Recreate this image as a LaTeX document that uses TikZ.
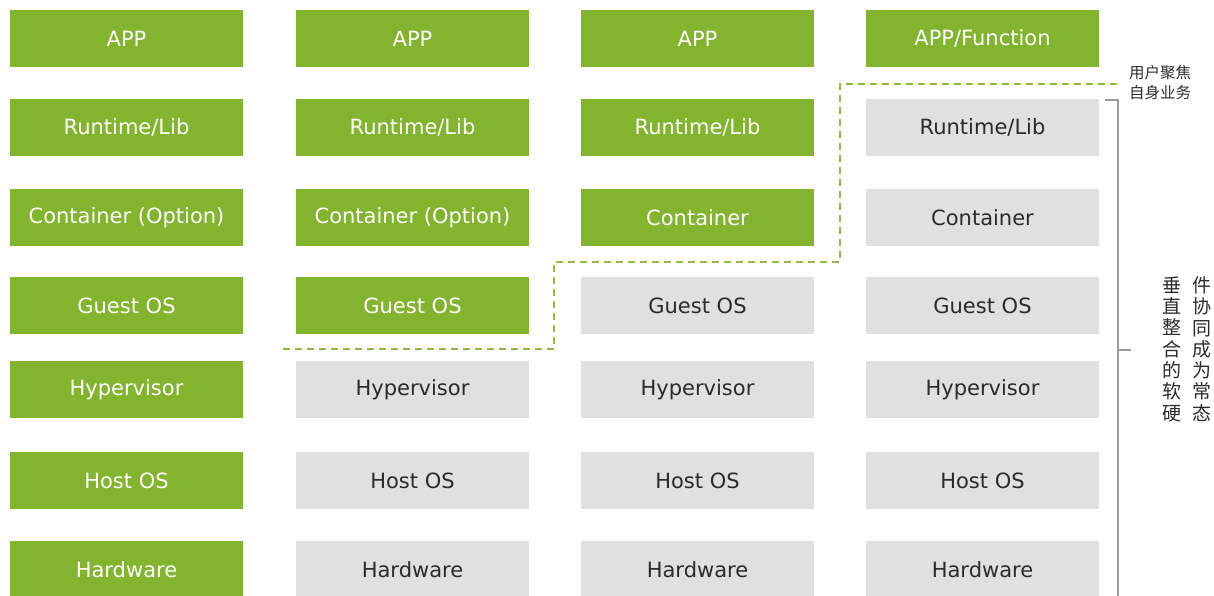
\documentclass[tikz,border=0pt]{standalone}
\usepackage{fontspec}
\setmainfont{DejaVu Sans}
\newfontfamily\cjk{Noto Sans CJK SC}
\usepackage{tikz}
\usetikzlibrary{positioning}

\definecolor{leaf}{HTML}{82B42E}
\definecolor{mist}{HTML}{E0E0E0}
\definecolor{ink}{HTML}{2B2B2B}
\definecolor{edge}{HTML}{9A9A9A}

\begin{document}
\begin{tikzpicture}[x=1pt,y=-1pt,
        layer/.style={rectangle,minimum width=233,minimum height=57,inner sep=0,
          font=\fontsize{21}{25}\selectfont},
        focus/.style={draw=leaf!90,line width=1.4,dash pattern=on 7pt off 5pt},
        brace/.style={draw=edge,line width=1.6},
        vtext/.style={text=ink,align=center,inner sep=0,font=\cjk\fontsize{19}{21.3}\selectfont}]
      \clip (0,0) rectangle (1214,596);

      % four stacks, green part counted from the top
      \foreach \c/\x/\ng/\app/\cnt in {1/126.5/7/APP/Container (Option),
                                       2/412.5/4/APP/Container (Option),
                                       3/697.5/3/APP/Container,
                                       4/982.5/1/{APP/Function}/Container}
        \foreach \r/\y/\txt in {1/38.5/\app, 2/127.5/{Runtime/Lib}, 3/217.5/\cnt,
                                4/305.5/Guest OS, 5/389.5/Hypervisor,
                                6/480.5/Host OS, 7/569.5/Hardware}
          {
          \ifnum\r>\ng \def\fc{mist}\def\tc{ink}\else \def\fc{leaf}\def\tc{white}\fi
          \node[layer,fill=\fc,text=\tc] (s\c r\r) at (\x,\y) {\txt};
          }

      \coordinate (d0) at (283,349);
      \coordinate (d1) at (554,262);
      \coordinate (d2) at (840,84);
      \coordinate (d3) at (1120,84);
      \draw[focus] (d0) -| (d1) -| (d2) -- (d3);

      \coordinate (b0) at (1105,100);
      \coordinate (b1) at (1118,100);
      \coordinate (b2) at (1118,600);
      \coordinate (bm) at (1118,350);
      \coordinate (bt) at (1131,350);
      \draw[brace] (b0) -- (b1) -- (b2);
      \draw[brace] (bm) -- (bt);

      \node[text=ink,align=left,inner sep=0,font=\cjk\fontsize{15.5}{20}\selectfont]
        (user) at (1160,83) {用户聚焦\\自身业务};
      \node[vtext] (vleft) at (1172,349) {垂\\直\\整\\合\\的\\软\\硬};
      \node[vtext] (vright) at (1202,349) {件\\协\\同\\成\\为\\常\\态};
\end{tikzpicture}
\end{document}
